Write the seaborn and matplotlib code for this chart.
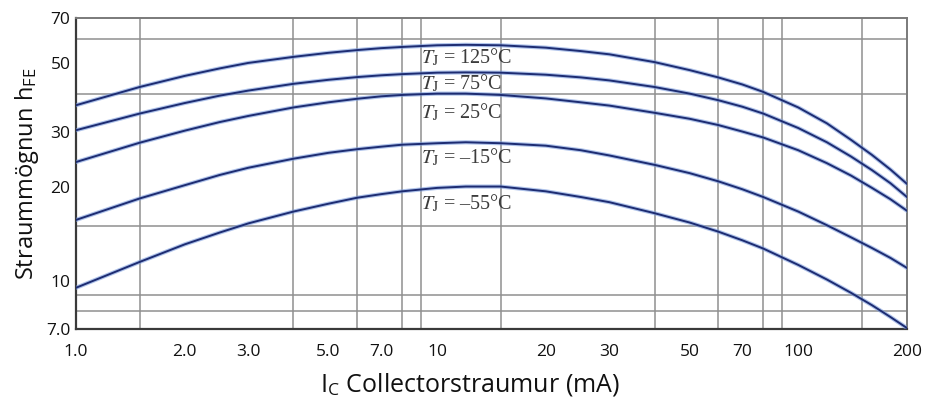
import numpy as np
import pandas as pd
import seaborn as sns
import matplotlib.pyplot as plt
from matplotlib.ticker import FixedLocator, NullFormatter

"""
data read off the chart
"""
ic_ma = [1, 1.5, 2, 2.5, 3, 4, 5, 6, 7, 8, 10, 12, 15, 20, 25, 30, 40, 50, 60, 70, 80, 100, 120, 140, 160, 180, 200]
hfe_125 = [36.7, 42.0, 45.6, 48.2, 50.2, 52.5, 54.1, 55.2, 56.0, 56.5, 57.2, 57.4, 57.2, 56.2, 54.8, 53.5,
           50.5, 47.6, 45.1, 42.8, 40.5, 36.1, 32.1, 28.4, 25.4, 22.8, 20.5]
hfe_75 = [30.5, 34.5, 37.3, 39.4, 40.9, 43.0, 44.3, 45.2, 45.8, 46.2, 46.7, 46.8, 46.7, 46.0, 45.1, 44.1,
          42.0, 40.0, 38.1, 36.3, 34.5, 31.0, 27.9, 25.1, 22.7, 20.6, 18.6]
hfe_25 = [24.1, 27.8, 30.4, 32.4, 33.9, 36.1, 37.5, 38.5, 39.2, 39.6, 40.0, 40.0, 39.6, 38.6, 37.5, 36.6,
          34.7, 33.2, 31.7, 30.2, 28.9, 26.3, 23.9, 21.8, 19.9, 18.3, 16.8]
hfe_m15 = [15.7, 18.4, 20.3, 21.9, 23.1, 24.7, 25.8, 26.5, 27.0, 27.4, 27.7, 27.9, 27.7, 27.2, 26.3, 25.3,
           23.6, 22.2, 20.9, 19.7, 18.6, 16.7, 15.1, 13.8, 12.75, 11.85, 11.0]
hfe_m55 = [9.5, 11.5, 13.1, 14.3, 15.3, 16.7, 17.7, 18.5, 19.0, 19.4, 19.9, 20.1, 20.1, 19.4, 18.6, 17.9,
           16.5, 15.4, 14.4, 13.5, 12.7, 11.25, 10.1, 9.15, 8.35, 7.65, 7.05]

temps = ["125", "75", "25", "-15", "-55"]
curve_labels = [r"$T_\mathrm{J}$ = 125°C", r"$T_\mathrm{J}$ = 75°C", r"$T_\mathrm{J}$ = 25°C",
                r"$T_\mathrm{J}$ = –15°C", r"$T_\mathrm{J}$ = –55°C"]
label_y = [52.4, 43.2, 34.9, 25.0, 17.8]

x_ticks = [1, 2, 3, 5, 7, 10, 20, 30, 50, 70, 100, 200]
x_ticklabels = ["1.0", "2.0", "3.0", "5.0", "7.0", "10", "20", "30", "50", "70", "100", "200"]
y_ticks = [7, 10, 20, 30, 50, 70]
y_ticklabels = ["7.0", "10", "20", "30", "50", "70"]
x_grid = [1.5, 2, 3, 4, 5, 6, 7, 8, 9, 10, 15, 20, 30, 40, 50, 60, 70, 80, 90, 100, 150]
y_grid = [8, 9, 10, 15, 20, 30, 40, 50, 60]

rows = []
for t, vals in zip(temps, [hfe_125, hfe_75, hfe_25, hfe_m15, hfe_m55]):
    for i, v in zip(ic_ma, vals):
        rows.append({"ic": i, "hfe": v, "temp": t})
df = pd.DataFrame(rows)

"""
plot
"""
sns.set_style("white")
plt.rcParams["font.family"] = ["Open Sans", "DejaVu Sans"]
plt.rcParams["mathtext.fontset"] = "stix"

fig = plt.figure(figsize=(9.25, 4.03), dpi=100)
ax = fig.add_axes([0.0822, 0.1836, 0.8983, 0.7717])

# soft blue halo + dark core, like the scanned ink
sns.lineplot(data=df, x="ic", y="hfe", hue="temp", palette=["#7a9bdc"] * 5,
             linewidth=3.0, alpha=0.6, legend=False, ax=ax, zorder=3)
sns.lineplot(data=df, x="ic", y="hfe", hue="temp", palette=["#1d2c72"] * 5,
             linewidth=1.4, legend=False, ax=ax, zorder=4)

ax.set_xscale("log")
ax.set_yscale("log")
ax.set_xlim(1, 200)
ax.set_ylim(7, 70)

ax.xaxis.set_major_locator(FixedLocator(x_ticks))
ax.xaxis.set_minor_locator(FixedLocator(x_grid))
ax.yaxis.set_major_locator(FixedLocator(y_ticks))
ax.yaxis.set_minor_locator(FixedLocator(y_grid))
ax.set_xticklabels(x_ticklabels)
ax.set_yticklabels(y_ticklabels)
ax.xaxis.set_minor_formatter(NullFormatter())
ax.yaxis.set_minor_formatter(NullFormatter())
ax.tick_params(which="both", length=0, labelsize=12.5, colors="#111111")
ax.tick_params(axis="x", pad=11)
ax.tick_params(axis="y", pad=4)

ax.grid(False)
ax.grid(which="minor", color="#909090", linewidth=1.1, zorder=1)

for side in ["left", "bottom"]:
    ax.spines[side].set_color("#3a3a3a")
    ax.spines[side].set_linewidth(1.6)
for side in ["top", "right"]:
    ax.spines[side].set_color("#7a7a7a")
    ax.spines[side].set_linewidth(1.4)

for lab, y in zip(curve_labels, label_y):
    ax.text(9.0, y, lab, fontsize=14.5, family=["Liberation Serif", "DejaVu Serif"],
            color="#3c3c3c", va="center", ha="left", zorder=5)

ax.set_xlabel(r"I$_\mathregular{C}$ Collectorstraumur (mA)", fontsize=18, labelpad=8, color="#111111")
ax.xaxis.set_label_coords(0.474, -0.135)
ax.set_ylabel(r"Straummögnun h$_\mathregular{FE}$", fontsize=17, labelpad=4, color="#111111")

fig.savefig("out.png", dpi=100)
